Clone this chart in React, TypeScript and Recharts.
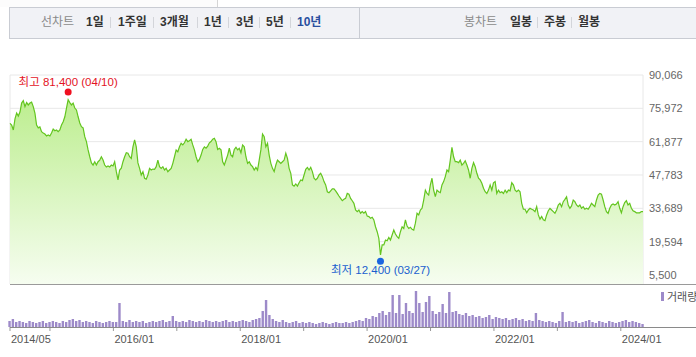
import React from 'react';
import { ComposedChart, Area, XAxis, YAxis, CartesianGrid, ReferenceDot, BarChart, Bar } from 'recharts';

// ---- axis settings ----
const priceTicks = [5500, 19594, 33689, 47783, 61877, 75972, 90066];
const priceFloor = 1694;
const startYear = 2014.37; // 2014/05
const endYear = 2024.35;
const yearTicks = [2015, 2016, 2017, 2018, 2019, 2020, 2021, 2022, 2023, 2024];
const dateTicks = [startYear, ...yearTicks];
const startLabel = '2014/05';

// ---- tabs ----
const lineTabs = ['1일', '1주일', '3개월', '1년', '3년', '5년', '10년'];
const candleTabs = ['일봉', '주봉', '월봉'];

// ---- price series (KRW), sampled evenly 2014/05 → 2024/05 ----
const price2014to2016 = [69600, 68900, 66800, 71500, 74000, 72700, 74400, 78200, 79200, 76700, 78400, 77400, 78200, 78600, 76700, 74000, 68900, 67700, 68100, 66100, 65500, 65100, 64300, 64700, 64300, 65500, 67200, 66500, 66800, 66100, 66800, 68900, 70300, 72400, 76100, 79600, 78400, 77400, 78200, 76100, 75300, 72400, 69800, 68200, 67700, 64000, 61900, 58400, 55500, 52900, 52000, 53400, 52000, 53400, 54100, 55500, 54100, 52000, 51200, 51600, 51200, 52000, 51600, 53400, 49200];
const price2016to2017 = [45700, 49900, 50700, 53400, 55500, 57200, 57000, 55500, 54800, 59700, 62600, 59700, 52900, 50600, 47800, 49200, 46400, 46000, 47800, 50600, 49900, 50300, 50200, 51300, 54100, 51300, 50600, 51300, 49900, 50600, 49200, 49900, 50600, 52700, 55500, 58400, 57600, 59700, 61200, 60500, 61400, 62900, 61900, 62300, 62900, 60500, 58400, 55500, 53400, 54400, 56200, 58600, 59700, 59100, 60000, 61400, 61900, 62900, 63300, 61900, 58600, 59100, 58400];
const price2017to2019 = [53400, 52000, 54100, 56200, 59100, 56200, 55500, 58600, 59500, 58400, 59100, 57200, 60500, 59700, 55500, 52700, 53400, 52000, 51300, 49900, 51000, 49900, 54100, 58400, 65100, 64000, 59700, 61200, 56200, 52700, 50600, 49200, 52000, 54100, 53400, 52700, 53400, 54100, 57000, 54800, 50600, 48500, 43600, 43100, 44000, 43100, 44500, 45700, 45400, 47800, 50200, 51000, 49900, 51000, 49200, 46400, 45700, 46400, 47800, 48500, 47100, 45000, 43600];
const price2019to2021 = [40700, 40300, 41100, 41900, 41900, 41100, 40000, 38900, 37900, 36900, 37500, 37900, 40000, 39700, 37900, 36900, 35800, 33000, 32300, 33000, 31600, 32300, 31600, 32300, 30400, 30200, 29500, 29900, 28800, 25900, 23800, 21000, 14000, 18200, 18200, 20300, 20000, 21400, 20300, 22400, 24500, 22800, 21700, 21000, 23800, 25900, 25200, 28800, 26200, 25200, 25700, 24800, 24500, 27400, 31600, 30900, 33000, 33700, 37200, 41400, 40000, 39300, 43600];
const price2021to2022 = [46400, 41400, 38600, 41400, 40700, 40300, 43600, 45000, 47100, 49900, 49200, 54100, 59500, 55500, 53400, 53400, 53000, 54100, 52000, 52700, 53800, 52000, 49900, 46400, 50600, 53000, 51300, 48500, 46400, 45700, 44300, 42200, 40700, 40000, 41400, 43600, 41400, 44500, 45000, 40000, 41400, 40300, 40700, 40000, 41400, 40300, 41400, 41100, 44500, 43600, 41400, 40700, 41400, 40700, 35800, 33300, 33300, 31800, 33000, 33700, 33300, 33000, 32300];
const price2022to2024 = [34400, 30900, 29100, 30200, 28800, 28500, 30900, 32700, 33700, 33000, 32300, 31600, 33000, 35100, 35800, 34400, 36500, 37500, 38600, 35100, 33700, 34700, 37200, 36500, 35100, 34400, 35100, 33700, 34400, 33300, 33700, 33300, 34400, 35800, 35100, 34400, 37200, 39300, 40000, 39700, 37200, 34400, 32300, 31600, 33700, 35100, 35500, 35100, 35500, 36500, 33700, 31800, 34400, 36100, 36900, 35100, 35800, 33700, 32700, 32300, 31800, 31800, 31800, 32300, 32300];

const highMark = { value: 81400, date: '04/10', title: '최고' };
const lowMark = { value: 12400, date: '03/27', title: '최저' };

// ---- volume (relative units), sampled evenly over the same period ----
const volume2014to2016 = [6, 8, 5, 6, 5, 4, 6, 5, 4, 5, 6, 4, 5, 6, 5, 4, 6, 5, 7, 8, 6, 7, 5, 6, 5, 4, 6, 5, 4, 5, 6, 5];
const volume2016to2018 = [5, 24, 6, 5, 7, 5, 6, 5, 6, 4, 5, 6, 5, 6, 7, 5, 6, 11, 6, 5, 6, 5, 7, 6, 5, 6, 5, 7, 6, 5, 6, 5, 6, 7, 5, 6, 5, 6, 7, 6, 5, 7, 8];
const volume2018to2020 = [9, 16, 27, 12, 8, 6, 5, 7, 5, 4, 5, 6, 4, 5, 4, 5, 4, 3, 4, 5, 4, 3, 4, 5, 4, 4, 5, 4, 5, 6, 7, 6, 9, 8, 11, 10];
const volume2020to2022 = [14, 16, 12, 15, 32, 14, 32, 13, 24, 16, 14, 36, 24, 15, 25, 31, 16, 13, 15, 23, 14, 35, 15, 16, 13, 12, 14, 11, 12, 10, 11, 9, 10, 12, 8, 10, 9, 8, 9, 7, 8, 9, 7, 8, 6, 7, 6, 14];
const volume2022to2024 = [7, 6, 5, 6, 5, 4, 6, 15, 5, 6, 5, 6, 4, 5, 6, 7, 5, 4, 6, 5, 4, 6, 5, 4, 5, 6, 7, 5, 6, 5, 4, 3];

const prices = [...price2014to2016, ...price2016to2017, ...price2017to2019, ...price2019to2021, ...price2021to2022, ...price2022to2024];
const volumes = [...volume2014to2016, ...volume2016to2018, ...volume2018to2020, ...volume2020to2022, ...volume2022to2024];

const priceStep = (endYear - startYear) / (prices.length - 1);
const priceTable = prices.map((p, i) => ({ t: startYear + i * priceStep, p }));
const volumeStep = (endYear - startYear) / (volumes.length - 1);
const volumeTable = volumes.map((v, i) => ({ t: startYear + i * volumeStep, v }));

const highIdx = prices.indexOf(Math.max(...prices));
const lowIdx = prices.indexOf(Math.min(...prices));

const FONT = "'Liberation Sans', 'Noto Sans CJK KR', sans-serif";
const fmt = (n: number) => n.toLocaleString('en-US');

const HighShape = (props: any) => {
  const { cx, cy } = props;
  return (
    <g>
      <circle cx={cx} cy={cy - 3.5} r={3.5} fill="#f01020" />
      <text x={cx} y={cy - 9.5} textAnchor="middle" fontSize={11.5} fill="#e3141f" fontFamily={FONT}>
        {`${highMark.title} ${fmt(highMark.value)} (${highMark.date})`}
      </text>
    </g>
  );
};

const LowShape = (props: any) => {
  const { cx, cy } = props;
  return (
    <g>
      <circle cx={cx} cy={cy + 2.5} r={3.5} fill="#1a66e0" />
      <text x={cx} y={cy + 15.5} textAnchor="middle" fontSize={11.5} fill="#1a5fcf" fontFamily={FONT}>
        {`${lowMark.title} ${fmt(lowMark.value)} (${lowMark.date})`}
      </text>
    </g>
  );
};

const DateTick = (props: any) => {
  const { x, y, payload } = props;
  const v = payload.value as number;
  let label = '';
  if (Math.abs(v - startYear) < 1e-6) label = startLabel;
  else if (Math.round(v) % 2 === 0) label = `${Math.round(v)}/01`;
  if (!label) return <g />;
  return (
    <text x={x + 1} y={y} dy="0.71em" textAnchor="start" fontSize={11} fill="#555" fontFamily={FONT}>
      {label}
    </text>
  );
};

const lineTabX = [86, 118, 160, 204, 236, 266, 297];
const lineSepX = [110, 153, 197, 228, 259, 290];
const candleTabX = [510, 544, 578];
const candleSepX = [537, 571];

export default function App() {
  return (
    <div style={{ position: 'absolute', left: 0, top: 0, width: 696, height: 357, background: '#fff', overflow: 'hidden', fontFamily: FONT }}>
      {/* top remnant */}
      <div style={{ position: 'absolute', left: 0, top: 0, width: 217, height: 7, borderRight: '1px solid #d5d5d5', background: '#fcfcfc' }} />
      {/* tab bar */}
      <div style={{ position: 'absolute', left: 9, top: 7, width: 700, height: 30, background: '#f1f2f6', borderTop: '1px solid #c9ccd3', borderBottom: '1px solid #c9ccd3', borderLeft: '1px solid #c9ccd3' }} />
      <div style={{ position: 'absolute', left: 359, top: 8, width: 1, height: 30, background: '#c9ccd3' }} />
      <span style={{ position: 'absolute', left: 41, top: 14, fontSize: 12, color: '#8a8a8a', lineHeight: '16px' }}>선차트</span>
      {lineTabs.map((t, i) => (
        <span key={t} style={{ position: 'absolute', left: lineTabX[i], top: 14, fontSize: 12, lineHeight: '16px', fontWeight: 'bold', color: t === '10년' ? '#2a4f9f' : '#333' }}>{t}</span>
      ))}
      {lineSepX.map((x) => (
        <div key={x} style={{ position: 'absolute', left: x, top: 17, width: 1, height: 11, background: '#d3d5da' }} />
      ))}
      <span style={{ position: 'absolute', left: 464, top: 14, fontSize: 12, color: '#8a8a8a', lineHeight: '16px' }}>봉차트</span>
      {candleTabs.map((t, i) => (
        <span key={t} style={{ position: 'absolute', left: candleTabX[i], top: 14, fontSize: 12, lineHeight: '16px', fontWeight: 'bold', color: '#333' }}>{t}</span>
      ))}
      {candleSepX.map((x) => (
        <div key={x} style={{ position: 'absolute', left: x, top: 17, width: 1, height: 11, background: '#d3d5da' }} />
      ))}

      {/* price chart */}
      <div style={{ position: 'absolute', left: 0, top: 0 }}>
        <ComposedChart width={696} height={284} data={priceTable} margin={{ top: 75, right: 0, bottom: 0, left: 10 }}>
          <defs>
            <linearGradient id="priceFill" x1="0" y1="0" x2="0" y2="1">
              <stop offset="0%" stopColor="#bdee90" />
              <stop offset="100%" stopColor="#f6fdf0" />
            </linearGradient>
          </defs>
          <CartesianGrid stroke="#e8e8e8" />
          <XAxis dataKey="t" type="number" domain={[startYear, endYear]} ticks={yearTicks} height={0} tick={false} axisLine={false} tickLine={false} />
          <YAxis orientation="right" width={53} domain={[priceFloor, 90066]} ticks={priceTicks} tickFormatter={fmt} axisLine={false} tickLine={false} tickSize={0} tickMargin={6} interval={0}
            tick={{ fontSize: 11, fill: '#666', fontFamily: FONT, textAnchor: 'start' }} />
          <Area type="linear" dataKey="p" stroke="#63c51f" strokeWidth={1.2} fill="url(#priceFill)" fillOpacity={1} isAnimationActive={false} dot={false} activeDot={false} />
          <ReferenceDot x={priceTable[highIdx].t} y={highMark.value} r={3} shape={HighShape} ifOverflow="visible" />
          <ReferenceDot x={priceTable[lowIdx].t} y={lowMark.value} r={3} shape={LowShape} ifOverflow="visible" />
        </ComposedChart>
      </div>
      <div style={{ position: 'absolute', left: 10, top: 284, width: 686, height: 1, background: '#9a9a9a' }} />

      {/* volume chart */}
      <div style={{ position: 'absolute', left: 0, top: 285 }}>
        <BarChart width={696} height={72} data={volumeTable} margin={{ top: 5, right: 53, bottom: 0, left: 10 }}>
          <XAxis dataKey="t" type="number" domain={[startYear, endYear]} ticks={dateTicks} interval={0} height={30} axisLine={false}
            tickLine={{ stroke: '#999' }} tickSize={4} tickMargin={4} tick={DateTick} />
          <YAxis hide domain={[0, 37]} />
          <Bar dataKey="v" fill="#9d8ac9" barSize={2.4} isAnimationActive={false} />
        </BarChart>
      </div>
      <div style={{ position: 'absolute', left: 10, top: 327, width: 686, height: 1, background: '#8a8a8a' }} />
      <div style={{ position: 'absolute', left: 661, top: 292, width: 3, height: 9, background: '#9d8ac9' }} />
      <span style={{ position: 'absolute', left: 667, top: 289, fontSize: 11, lineHeight: '16px', color: '#555', whiteSpace: 'nowrap' }}>거래량</span>
    </div>
  );
}
